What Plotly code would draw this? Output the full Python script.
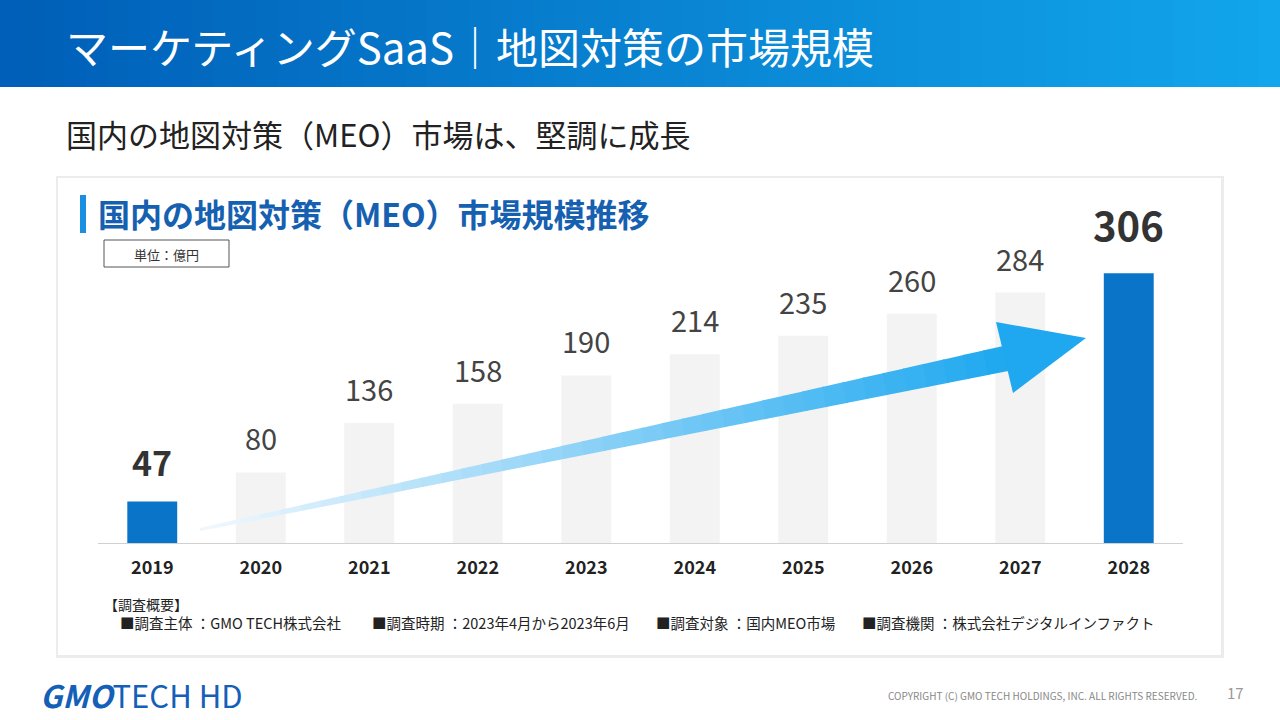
import plotly.graph_objects as go

years = ["2019","2020","2021","2022","2023","2024","2025","2026","2027","2028"]
values = [47, 80, 136, 158, 190, 214, 235, 260, 284, 306]
highlight = [True, False, False, False, False, False, False, False, False, True]

W, H = 1280, 720
def px(x): return x / W
def py(y): return 1 - y / H

F = "Noto Sans CJK JP"
colors = ["#0a74c9" if h else "#f3f3f3" for h in highlight]

fig = go.Figure(go.Bar(
    x=years, y=values, marker=dict(color=colors, line_width=0), width=0.46, hoverinfo="skip"))

shapes = []
N = 60
for i in range(N):
    t = i / (N - 1)
    r = int(0x00 + (0x12 - 0x00) * t); g = int(0x5f + (0xa6 - 0x5f) * t); b = int(0xb8 + (0xec - 0xb8) * t)
    shapes.append(dict(type="rect", xref="paper", yref="paper", x0=px(W*i/N), x1=min(1, px(W*(i+1)/N+1)),
                       y0=py(87), y1=py(0), fillcolor=f"rgb({r},{g},{b})", line_width=0, layer="below"))
shapes.append(dict(type="rect", xref="paper", yref="paper", x0=px(56), x1=px(1224), y0=py(658), y1=py(176),
                   fillcolor="#ececec", line_width=0, layer="below"))
shapes.append(dict(type="rect", xref="paper", yref="paper", x0=px(58), x1=px(1221), y0=py(655), y1=py(178),
                   fillcolor="white", line_width=0, layer="below"))
shapes.append(dict(type="rect", xref="paper", yref="paper", x0=px(80), x1=px(86), y0=py(233), y1=py(195),
                   fillcolor="#1a8ee0", line_width=0))
shapes.append(dict(type="rect", xref="paper", yref="paper", x0=px(104), x1=px(229), y0=py(267), y1=py(240),
                   fillcolor="white", line=dict(color="#555", width=1)))
tail_top, tail_bot = (200, 528), (200, 531)
end_top, end_bot = (1003, 346), (1008, 371)
M = 40
c0 = (0xf2, 0xf9, 0xfe); c1 = (0x1f, 0xa8, 0xf0)
def lerp(p, q, t): return (p[0] + (q[0]-p[0])*t, p[1] + (q[1]-p[1])*t)
for i in range(M):
    a, b2 = i / M, (i + 1) / M
    p1 = lerp(tail_top, end_top, a); p2 = lerp(tail_top, end_top, b2 + 0.002)
    p3 = lerp(tail_bot, end_bot, b2 + 0.002); p4 = lerp(tail_bot, end_bot, a)
    t = (i + 0.5) / M
    col = "rgb(%d,%d,%d)" % tuple(int(c0[k] + (c1[k]-c0[k])*t) for k in range(3))
    path = "M %f %f L %f %f L %f %f L %f %f Z" % (px(p1[0]), py(p1[1]), px(p2[0]), py(p2[1]),
                                                 px(p3[0]), py(p3[1]), px(p4[0]), py(p4[1]))
    shapes.append(dict(type="path", xref="paper", yref="paper", path=path, fillcolor=col, line_width=0))
head = [(996, 322), (1086, 338), (1013, 393)]
shapes.append(dict(type="path", xref="paper", yref="paper",
                   path="M %f %f L %f %f L %f %f Z" % tuple(v for p in head for v in (px(p[0]), py(p[1]))),
                   fillcolor="#1fa8f0", line_width=0))

ann = []
for i, (v, h) in enumerate(zip(values, highlight)):
    big = h and v > 100
    ann.append(dict(xref="x", yref="y", x=i, y=v, text=f"<b>{v}</b>" if h else str(v), showarrow=False,
                    yanchor="bottom", yshift=18 if big else (14 if h else 12),
                    font=dict(size=40 if big else (34 if h else 29), color="#333" if h else "#444", family=F)))
def A(x, y, t, size, color="#222", anchor="left", bold=False):
    ann.append(dict(xref="paper", yref="paper", x=px(x), y=py(y), text=f"<b>{t}</b>" if bold else t,
                    showarrow=False, xanchor=anchor, yanchor="middle",
                    font=dict(size=size, color=color, family=F)))
A(64, 45, "マーケティングSaaS｜地図対策の市場規模", 42, "white")
A(64, 133, "国内の地図対策（MEO）市場は、堅調に成長", 31, "#222")
A(96, 213, "国内の地図対策（MEO）市場規模推移", 32, "#1560b0", bold=True)
A(166, 254, "単位：億円", 13, "#333", "center")
A(102, 604, "【調査概要】", 14, "#222")
A(118, 622, "■調査主体 ：GMO TECH株式会社", 14.5, "#222")
A(370, 622, "■調査時期 ：2023年4月から2023年6月", 14.5, "#222")
A(654, 622, "■調査対象 ：国内MEO市場", 14.5, "#222")
A(860, 622, "■調査機関 ：株式会社デジタルインファクト", 14.5, "#222")
A(38, 694, "<b><i>GMO</i></b>TECH HD", 31, "#1460b8")
A(1200, 695, "COPYRIGHT (C) GMO TECH HOLDINGS, INC. ALL RIGHTS RESERVED.", 10, "#888", "right")
A(1246, 692, "17", 15, "#999", "right")

fig.update_layout(
    width=W, height=H, margin=dict(l=0, r=0, t=0, b=0), paper_bgcolor="white", plot_bgcolor="rgba(0,0,0,0)",
    showlegend=False, shapes=shapes, annotations=ann,
    xaxis=dict(type="category", domain=[px(98), px(1183)], range=[-0.5, 9.5], showline=True,
               linecolor="#d0d0d0", linewidth=1, ticks="", ticklabelstandoff=8,
               tickfont=dict(size=18, color="#222", family=F), tickprefix="<b>", ticksuffix="</b>"),
    yaxis=dict(domain=[py(543), py(200)], range=[0, 389], visible=False),
)
fig.write_html("out.html", config={"displayModeBar": False},
               post_script="document.body.style.margin='0';document.body.style.overflow='hidden';")
